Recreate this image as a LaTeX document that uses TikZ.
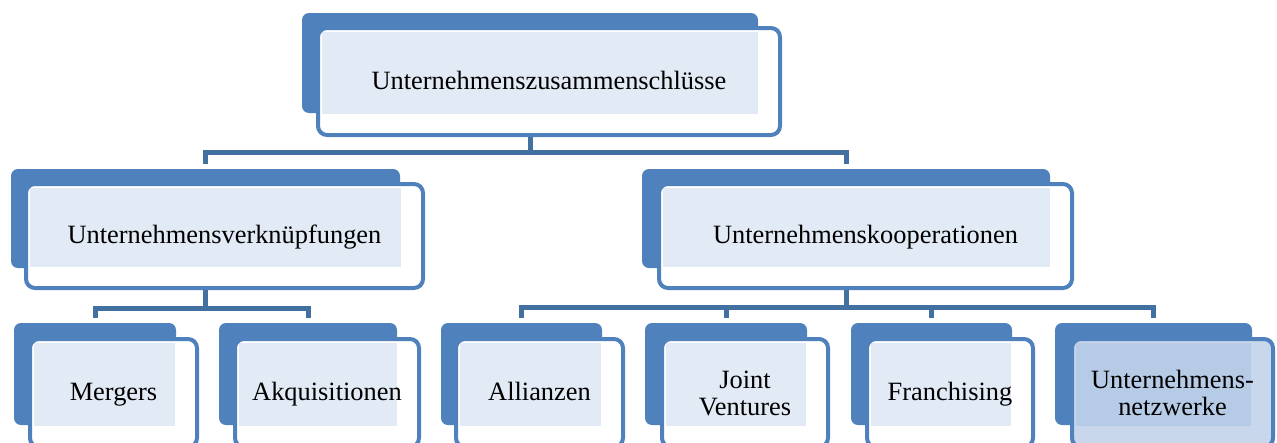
\documentclass[tikz,border=0pt]{standalone}
\usepackage{fontspec}
\setmainfont{Liberation Serif}
\usepackage{tikz}
\usetikzlibrary{positioning,calc}

\definecolor{boxblue}{RGB}{79,129,189}
\definecolor{linkblue}{RGB}{66,112,160}
\definecolor{dotfill}{RGB}{226,234,245}
\definecolor{shadefill}{RGB}{200,215,236}
\definecolor{shadedot}{RGB}{182,203,230}

\begin{document}
\begin{tikzpicture}[
    x=1pt, y=-1pt,
    back/.style={fill=boxblue, rounded corners=7pt, inner sep=0pt},
    front/.style={draw=boxblue, line width=4pt, fill=white, rounded corners=9pt, inner sep=0pt,
        align=center, font=\fontsize{26.4}{27}\selectfont, text height=19pt, text depth=4pt,
        path picture={\fill[#1, sharp corners] ([shift={(4pt,-4pt)}]path picture bounding box.north west)
            rectangle ([shift={(-22pt,21pt)}]path picture bounding box.south east);}},
    front/.default=dotfill,
    twolines/.style={text height=, text depth=},
    conn/.style={draw=linkblue, line width=5pt}
]
\clip (0,0) rectangle (1277,442);
\fill[white] (0,0) rectangle (1277,442);

% oberste Ebene
\node[back, minimum width=456pt, minimum height=100pt] (zus-b) at (530,63) {};
\node[front, minimum width=462pt, minimum height=107pt] (zus) at (549,81.5) {Unternehmenszusammenschlüsse};

% zweite Ebene
\node[back, minimum width=389pt, minimum height=99pt] (verk-b) at (205.5,218.5) {};
\node[front, minimum width=397pt, minimum height=104pt] (verk) at (224.5,236) {Unternehmensverknüpfungen};
\node[back, minimum width=408pt, minimum height=99pt] (koop-b) at (846,218.5) {};
\node[front, minimum width=413pt, minimum height=104pt] (koop) at (865.5,236) {Unternehmenskooperationen};

% dritte Ebene
\node[back, minimum width=162pt, minimum height=102pt] (merg-b) at (95,374) {};
\node[front, minimum width=167pt, minimum height=108pt] (merg) at (113.5,393) {Mergers};
\node[back, minimum width=178pt, minimum height=102pt] (akq-b) at (308,374) {};
\node[front, minimum width=184pt, minimum height=108pt] (akq) at (327,393) {Akquisitionen};
\node[back, minimum width=161pt, minimum height=102pt] (alli-b) at (521.5,374) {};
\node[front, minimum width=167pt, minimum height=108pt] (alli) at (539.5,393) {Allianzen};
\node[back, minimum width=162pt, minimum height=102pt] (joint-b) at (726,374) {};
\node[front, twolines, minimum width=166pt, minimum height=108pt] (joint) at (745,393) {Joint\\Ventures};
\node[back, minimum width=161pt, minimum height=102pt] (fran-b) at (931.5,374) {};
\node[front, minimum width=166pt, minimum height=108pt] (fran) at (950,393) {Franchising};
\node[back, minimum width=197pt, minimum height=102pt] (netz-b) at (1153.5,374) {};
\node[front=shadedot, twolines, fill=shadefill, minimum width=201pt, minimum height=108pt] (netz) at (1172.5,393) {Unternehmens-\\netzwerke};

% Verbindungen
\draw[conn] (zus-b |- zus.south) -- ++(0,15) -| ([yshift=5pt]verk-b.north);
\draw[conn] (zus-b |- zus.south) -- ++(0,15) -| ([yshift=5pt]koop-b.north);
\draw[conn] (verk-b |- verk.south) -- ++(0,18) -| ([yshift=5pt]merg-b.north);
\draw[conn] (verk-b |- verk.south) -- ++(0,18) -| ([yshift=5pt]akq-b.north);
\foreach \kind in {alli,joint,fran,netz}
  \draw[conn] (koop-b |- koop.south) -- ++(0,17) -| ([yshift=5pt]\kind-b.north);
\end{tikzpicture}
\end{document}
